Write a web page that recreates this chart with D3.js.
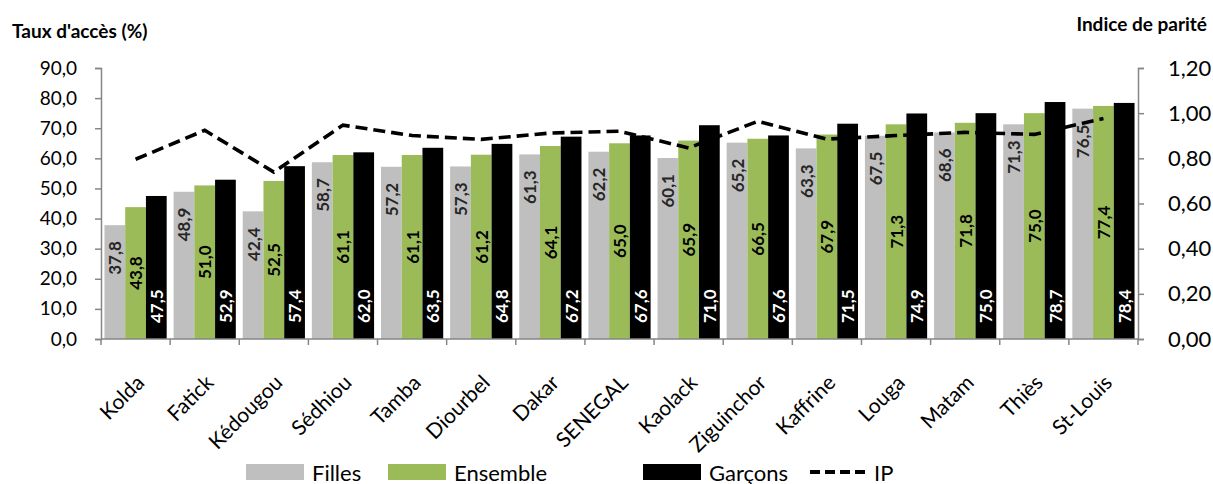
<!DOCTYPE html>
<html>
<head>
<meta charset="utf-8">
<script src="https://cdn.jsdelivr.net/npm/d3@7"></script>
<style>
  html, body { margin: 0; padding: 0; background: #fff; }
  svg { display: block; font-family: Lato, "Open Sans", sans-serif; }
</style>
</head>
<body>
<svg id="chart" width="1213" height="484"></svg>
<script>
// Taux d'accès par région, filles / ensemble / garçons, et indice de parité
const categories = ["Kolda", "Fatick", "Kédougou", "Sédhiou", "Tamba", "Diourbel", "Dakar",
  "SENEGAL", "Kaolack", "Ziguinchor", "Kaffrine", "Louga", "Matam", "Thiès", "St-Louis"];
const filles   = [37.8, 48.9, 42.4, 58.7, 57.2, 57.3, 61.3, 62.2, 60.1, 65.2, 63.3, 67.5, 68.6, 71.3, 76.5];
const ensemble = [43.8, 51.0, 52.5, 61.1, 61.1, 61.2, 64.1, 65.0, 65.9, 66.5, 67.9, 71.3, 71.8, 75.0, 77.4];
const garcons  = [47.5, 52.9, 57.4, 62.0, 63.5, 64.8, 67.2, 67.6, 71.0, 67.6, 71.5, 74.9, 75.0, 78.7, 78.4];
const ip       = [0.796, 0.924, 0.739, 0.947, 0.901, 0.884, 0.912, 0.920, 0.846, 0.964, 0.885, 0.901, 0.915, 0.906, 0.976];
const leftTicks  = [0, 10, 20, 30, 40, 50, 60, 70, 80, 90];
const rightTicks = [0, 0.2, 0.4, 0.6, 0.8, 1.0, 1.2];

const seriesNames  = ["Filles", "Ensemble", "Garçons"];
const seriesColors = ["#BFBFBF", "#9BBB59", "#000000"];
const seriesData   = [filles, ensemble, garcons];

const svg = d3.select("#chart");
const plot = { left: 101, right: 1138, top: 68, bottom: 339 };
const axisColor = "#868686";
const frFmt1 = v => d3.format(".1f")(v).replace(".", ",");
const frFmt2 = v => d3.format(".2f")(v).replace(".", ",");

const x = d3.scaleBand().domain(categories).range([plot.left, plot.right])
  .paddingInner(0.1).paddingOuter(0.05);
const xs = d3.scaleBand().domain(seriesNames).range([0, x.bandwidth()]);
const y = d3.scaleLinear().domain([0, 90]).range([plot.bottom, plot.top]);
const y2 = d3.scaleLinear().domain([0, 1.2]).range([plot.bottom, plot.top]);

// Bars
const groups = svg.append("g").selectAll("g")
  .data(categories).join("g")
  .attr("transform", d => `translate(${x(d)},0)`);

seriesNames.forEach((name, si) => {
  groups.append("rect")
    .attr("x", xs(name))
    .attr("width", xs.bandwidth())
    .attr("y", (d, i) => y(seriesData[si][i]))
    .attr("height", (d, i) => plot.bottom - y(seriesData[si][i]))
    .attr("fill", seriesColors[si]);
});

// Value labels (vertical)
const pad = 16;
const labelStyle = sel => sel.attr("font-size", 17).attr("font-weight", 700)
  .attr("dominant-baseline", "central");

// Filles: inside end
groups.append("text").call(labelStyle)
  .attr("fill", "#262626").attr("text-anchor", "end")
  .attr("transform", (d, i) => `translate(${xs("Filles") + xs.bandwidth() / 2},${y(filles[i]) + pad}) rotate(-90)`)
  .text((d, i) => frFmt1(filles[i]));
// Ensemble: centered
groups.append("text").call(labelStyle)
  .attr("fill", "#000").attr("text-anchor", "middle")
  .attr("transform", (d, i) => `translate(${xs("Ensemble") + xs.bandwidth() / 2},${(y(ensemble[i]) + plot.bottom) / 2}) rotate(-90)`)
  .text((d, i) => frFmt1(ensemble[i]));
// Garçons: inside base
groups.append("text").call(labelStyle)
  .attr("fill", "#fff").attr("text-anchor", "start")
  .attr("transform", (d, i) => `translate(${xs("Garçons") + xs.bandwidth() / 2},${plot.bottom - pad}) rotate(-90)`)
  .text((d, i) => frFmt1(garcons[i]));

// IP line
const line = d3.line()
  .x((d, i) => x(categories[i]) + x.bandwidth() / 2)
  .y(d => y2(d));
svg.append("path").datum(ip)
  .attr("d", line)
  .attr("fill", "none")
  .attr("stroke", "#000")
  .attr("stroke-width", 3.6)
  .attr("stroke-dasharray", "12,6");

// Left axis
const yAxis = svg.append("g").attr("transform", `translate(${plot.left},0)`)
  .call(d3.axisLeft(y).tickValues(leftTicks).tickFormat(frFmt1).tickSize(6).tickPadding(18));
// Right axis
const yAxis2 = svg.append("g").attr("transform", `translate(${plot.right},0)`)
  .call(d3.axisRight(y2).tickValues(rightTicks).tickFormat(frFmt2).tickSize(6).tickPadding(24));
[yAxis, yAxis2].forEach(g => {
  g.select(".domain").attr("stroke", axisColor).attr("stroke-width", 1.5);
  g.selectAll(".tick line").attr("stroke", axisColor).attr("stroke-width", 1.5);
  g.selectAll(".tick text").attr("fill", "#000").attr("font-family", "Lato, sans-serif");
});
yAxis.selectAll(".tick text").attr("font-size", 19);
yAxis2.selectAll(".tick text").attr("font-size", 22);

// Bottom axis with ticks at category boundaries
const xAxisG = svg.append("g");
xAxisG.append("line")
  .attr("x1", plot.left).attr("x2", plot.right)
  .attr("y1", plot.bottom).attr("y2", plot.bottom)
  .attr("stroke", axisColor).attr("stroke-width", 1.5);
const boundaries = d3.range(categories.length + 1).map(i => plot.left + i * x.step());
xAxisG.selectAll(".bt").data(boundaries).join("line")
  .attr("x1", d => d).attr("x2", d => d)
  .attr("y1", plot.bottom).attr("y2", plot.bottom + 6)
  .attr("stroke", axisColor).attr("stroke-width", 1.5);
xAxisG.selectAll(".cl").data(categories).join("text")
  .attr("font-size", 21)
  .attr("text-anchor", "end")
  .attr("transform", d => `translate(${x(d) + x.bandwidth() / 2 + 10},${plot.bottom + 45}) rotate(-45)`)
  .text(d => d);

// Axis titles
svg.append("text").attr("x", 12).attr("y", 38)
  .attr("font-size", 19).attr("font-weight", 700).text("Taux d'accès (%)");
svg.append("text").attr("x", 1207).attr("y", 31).attr("text-anchor", "end")
  .attr("font-size", 19).attr("font-weight", 700).text("Indice de parité");

// Legend
const legend = svg.append("g").attr("transform", "translate(0,472)");
const legendItems = [
  { name: "Filles", color: seriesColors[0], x: 246 },
  { name: "Ensemble", color: seriesColors[1], x: 388 },
  { name: "Garçons", color: seriesColors[2], x: 643 }
];
legendItems.forEach(it => {
  legend.append("rect").attr("x", it.x).attr("y", -8).attr("width", 58).attr("height", 16).attr("fill", it.color);
  legend.append("text").attr("x", it.x + 66).attr("y", 0).attr("dominant-baseline", "central")
    .attr("font-size", 22).text(it.name);
});
legend.append("line").attr("x1", 810).attr("x2", 868).attr("y1", 0).attr("y2", 0)
  .attr("stroke", "#000").attr("stroke-width", 4).attr("stroke-dasharray", "10,5");
legend.append("text").attr("x", 874).attr("y", 0).attr("dominant-baseline", "central")
  .attr("font-size", 22).text("IP");
</script>
</body>
</html>
